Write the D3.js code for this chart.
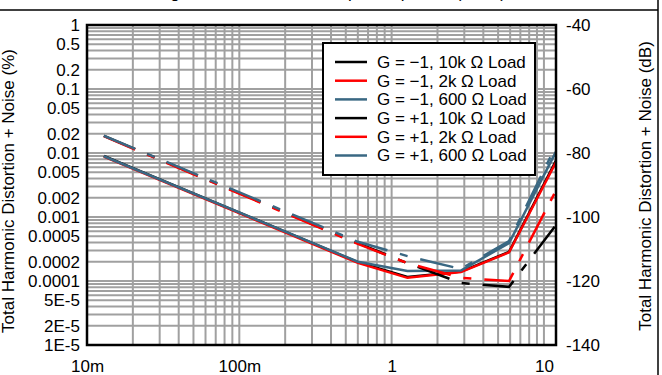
<!DOCTYPE html>
<html>
<head>
<meta charset="utf-8">
<script src="https://cdn.jsdelivr.net/npm/d3@7"></script>
<style>
    body { margin: 0; background: #fff; }
    text { font-family: 'Liberation Sans', Arial, sans-serif; font-size: 17px; fill: #000; }
</style>
</head>
<body>
<svg id="drawing_region"></svg>
<script>
// output amplitude (Vrms) of each measured point
const amplitudes = [0.0129, 0.6, 1.27, 2.85, 5.9, 12];

// THD+N in percent, G = -1 (solid)
const invert10k = [0.0090, 0.000197, 0.000116, 0.000140, 0.000285, 0.0076];
const invert2k = [0.0088, 0.000192, 0.000112, 0.000138, 0.000280, 0.0072];
const invert600 = [0.0089, 0.000200, 0.000143, 0.000146, 0.000390, 0.0105];

// THD+N in percent, G = +1 (dashed)
const follow10k = [0.0185, 0.000390, 0.000190, 0.000093, 0.000081, 0.00075];
const follow2k = [0.0183, 0.000380, 0.000190, 0.000112, 0.000100, 0.0026];
const follow600 = [0.0186, 0.000410, 0.000245, 0.000154, 0.000420, 0.013];

const seriesLabels = [
    'G = \u22121, 10k \u03A9 Load',
    'G = \u22121, 2k \u03A9 Load',
    'G = \u22121, 600 \u03A9 Load',
    'G = +1, 10k \u03A9 Load',
    'G = +1, 2k \u03A9 Load',
    'G = +1, 600 \u03A9 Load'
];

const xTickValues = [0.01, 0.1, 1, 10];
const xTickLabels = ['10m', '100m', '1', '10'];
const pctTickValues = [1, 0.5, 0.2, 0.1, 0.05, 0.02, 0.01, 0.005, 0.002, 0.001, 0.0005, 0.0002, 0.0001, 0.00005, 0.00002, 0.00001];
const pctTickLabels = ['1', '0.5', '0.2', '0.1', '0.05', '0.02', '0.01', '0.005', '0.002', '0.001', '0.0005', '0.0002', '0.0001', '5E-5', '2E-5', '1E-5'];
const dbTickValues = [-40, -60, -80, -100, -120, -140];

const colors = ['#000000', '#ff0000', '#3a6883'];

const series = [invert10k, invert2k, invert600, follow10k, follow2k, follow600].map((values, i) => ({
    label: seriesLabels[i],
    color: colors[i % 3],
    dashed: i >= 3,
    points: values.map((v, j) => ({x: amplitudes[j], y: v}))
}));

const width = 662, height = 375;
const plot = {left: 87, right: 556, top: 25, bottom: 345};

const svg = d3.select('#drawing_region')
    .attr('width', width)
    .attr('height', height);

const x = d3.scaleLog().domain([0.01, 12]).range([plot.left, plot.right]);
const yPct = d3.scaleLog().domain([0.00001, 1]).range([plot.bottom, plot.top]);
const yDb = d3.scaleLinear().domain([-140, -40]).range([plot.bottom, plot.top]);

// outer frame with the title row mostly cut off above
svg.append('text')
    .attr('x', 331)
    .attr('y', -2)
    .attr('text-anchor', 'middle')
    .text('Figure 12. THD+N vs Output Amplitude (Vrms)');

svg.append('line')
    .attr('x1', 0).attr('x2', 658)
    .attr('y1', 10).attr('y2', 10)
    .attr('stroke', '#000').attr('stroke-width', 1.5);

svg.append('line')
    .attr('x1', 658).attr('x2', 658)
    .attr('y1', 0).attr('y2', height)
    .attr('stroke', '#000').attr('stroke-width', 1.5);

// grid
const grid = svg.append('g').attr('stroke', '#a0a0a0').attr('stroke-width', 2);

grid.selectAll('.vgrid')
    .data(x.ticks())
    .enter()
    .append('line')
    .attr('x1', d => x(d)).attr('x2', d => x(d))
    .attr('y1', plot.top).attr('y2', plot.bottom);

grid.selectAll('.hgrid')
    .data(yPct.ticks())
    .enter()
    .append('line')
    .attr('x1', plot.left).attr('x2', plot.right)
    .attr('y1', d => yPct(d)).attr('y2', d => yPct(d));

// axes
const xAxis = svg.append('g')
    .attr('transform', `translate(0, ${plot.bottom})`)
    .call(d3.axisBottom(x).tickValues(xTickValues).tickFormat((d, i) => xTickLabels[i]).tickSize(0).tickPadding(15));

const leftAxis = svg.append('g')
    .attr('transform', `translate(${plot.left}, 0)`)
    .call(d3.axisLeft(yPct).tickValues(pctTickValues).tickFormat((d, i) => pctTickLabels[i]).tickSize(0).tickPadding(7));

const rightAxis = svg.append('g')
    .attr('transform', `translate(${plot.right}, 0)`)
    .call(d3.axisRight(yDb).tickValues(dbTickValues).tickFormat(d => d).tickSize(0).tickPadding(10));

[xAxis, leftAxis, rightAxis].forEach(a => {
    a.select('.domain').remove();
    a.selectAll('text').attr('fill', '#000');
    a.attr('font-size', null).attr('font-family', null);
});

svg.append('text')
    .attr('transform', 'translate(14, 191) rotate(-90)')
    .attr('text-anchor', 'middle')
    .text('Total Harmonic Distortion + Noise (%)');

svg.append('text')
    .attr('transform', 'translate(651, 186) rotate(-90)')
    .attr('text-anchor', 'middle')
    .text('Total Harmonic Distortion + Noise (dB)');

// data lines
svg.append('clipPath')
    .attr('id', 'plot-clip')
    .append('rect')
    .attr('x', plot.left).attr('y', plot.top)
    .attr('width', plot.right - plot.left).attr('height', plot.bottom - plot.top);

const line = d3.line()
    .x(d => x(d.x))
    .y(d => yPct(d.y));

svg.append('g')
    .attr('clip-path', 'url(#plot-clip)')
    .selectAll('path')
    .data(series)
    .enter()
    .append('path')
    .attr('d', d => line(d.points))
    .attr('fill', 'none')
    .attr('stroke', d => d.color)
    .attr('stroke-width', 2.5)
    .attr('stroke-dasharray', d => d.dashed ? '34,13,8,13' : null);

// plot border
svg.append('rect')
    .attr('x', plot.left).attr('y', plot.top)
    .attr('width', plot.right - plot.left).attr('height', plot.bottom - plot.top)
    .attr('fill', 'none')
    .attr('stroke', '#000')
    .attr('stroke-width', 2.5);

// legend
const legend = svg.append('g');

legend.append('rect')
    .attr('x', 323).attr('y', 43)
    .attr('width', 212).attr('height', 132)
    .attr('fill', '#fff')
    .attr('stroke', '#000')
    .attr('stroke-width', 2);

const entries = legend.selectAll('.entry')
    .data(series)
    .enter()
    .append('g')
    .attr('transform', (d, i) => `translate(335, ${62 + i * 18.7})`);

entries.append('line')
    .attr('x1', 0).attr('x2', 32)
    .attr('stroke', d => d.color)
    .attr('stroke-width', 2.5);

entries.append('text')
    .attr('x', 42)
    .attr('dy', '0.35em')
    .text(d => d.label);
</script>
</body>
</html>
